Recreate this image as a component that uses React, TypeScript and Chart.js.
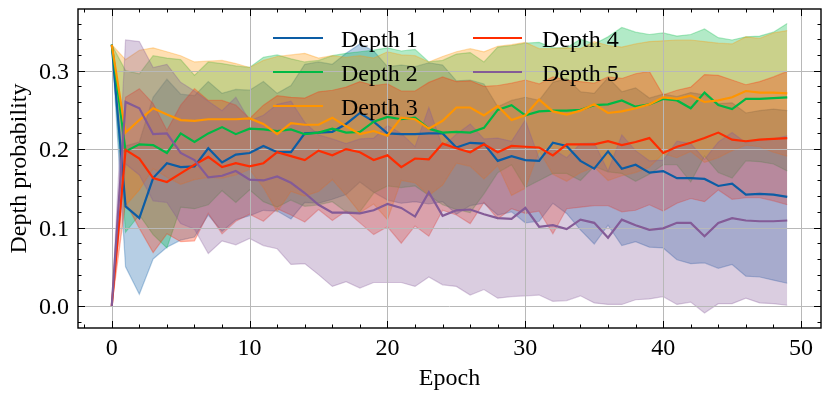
import React, { useEffect, useRef } from "react";
import { Chart, registerables } from "chart.js";

Chart.register(...registerables);

// ---------------- data ----------------
const epochs = [
  0, 1, 2, 3, 4, 5, 6, 7, 8, 9, 10, 11, 12, 13, 14, 15, 16, 17, 18, 19, 20, 21, 22, 23, 24,
  25, 26, 27, 28, 29, 30, 31, 32, 33, 34, 35, 36, 37, 38, 39, 40, 41, 42, 43, 44, 45, 46, 47, 48, 49,
];

const seriesNames = ["Depth 1", "Depth 2", "Depth 3", "Depth 4", "Depth 5"];

const depth1Mean = [
  0.333, 0.127, 0.112, 0.163, 0.182, 0.177, 0.178, 0.201, 0.183, 0.193,
  0.195, 0.204, 0.196, 0.196, 0.22, 0.221, 0.222, 0.232, 0.246, 0.235,
  0.22, 0.219, 0.219, 0.22, 0.22, 0.202, 0.208, 0.207, 0.185, 0.191,
  0.186, 0.185, 0.208, 0.204, 0.185, 0.175, 0.197, 0.175, 0.18, 0.17,
  0.172, 0.163, 0.163, 0.162, 0.153, 0.156, 0.142, 0.143, 0.142, 0.139,
];
const depth1Std = [
  0, 0.077, 0.097, 0.103, 0.107, 0.093, 0.09, 0.085, 0.088, 0.083,
  0.08, 0.082, 0.075, 0.085, 0.088, 0.09, 0.086, 0.09, 0.088, 0.09,
  0.085, 0.088, 0.086, 0.09, 0.087, 0.085, 0.08, 0.076, 0.069, 0.071,
  0.08, 0.077, 0.077, 0.086, 0.088, 0.096, 0.094, 0.098, 0.098, 0.095,
  0.098, 0.104, 0.109, 0.107, 0.105, 0.103, 0.104, 0.106, 0.109, 0.11,
];

const depth2Mean = [
  0.333, 0.197, 0.206, 0.205, 0.195, 0.22, 0.209, 0.22, 0.228, 0.219,
  0.226, 0.225, 0.223, 0.225, 0.219, 0.221, 0.226, 0.221, 0.222, 0.235,
  0.241, 0.238, 0.24, 0.226, 0.221, 0.222, 0.221, 0.227, 0.25, 0.256,
  0.243, 0.248, 0.249, 0.249, 0.25, 0.256, 0.257, 0.262, 0.254, 0.257,
  0.264, 0.262, 0.252, 0.272, 0.256, 0.251, 0.264, 0.264, 0.265, 0.266,
];
const depth2Std = [
  0, 0.103, 0.09, 0.114, 0.121, 0.094, 0.085, 0.091, 0.081, 0.087,
  0.078, 0.092, 0.097, 0.09, 0.092, 0.092, 0.093, 0.101, 0.102, 0.091,
  0.088, 0.087, 0.087, 0.085, 0.092, 0.099, 0.102, 0.084, 0.08, 0.076,
  0.092, 0.088, 0.08, 0.08, 0.09, 0.078, 0.086, 0.093, 0.095, 0.089,
  0.084, 0.082, 0.094, 0.081, 0.086, 0.088, 0.079, 0.08, 0.084, 0.094,
];

const depth3Mean = [
  0.333, 0.221, 0.237, 0.252, 0.244, 0.237, 0.236, 0.238, 0.238, 0.238,
  0.239, 0.232, 0.219, 0.233, 0.231, 0.231, 0.24, 0.229, 0.219, 0.223,
  0.217, 0.24, 0.238, 0.226, 0.236, 0.253, 0.253, 0.243, 0.255, 0.237,
  0.243, 0.263, 0.248, 0.244, 0.249, 0.257, 0.246, 0.248, 0.252, 0.257,
  0.266, 0.264, 0.268, 0.26, 0.262, 0.266, 0.274, 0.272, 0.272, 0.271,
];
const depth3Std = [
  0, 0.093, 0.089, 0.077, 0.08, 0.082, 0.075, 0.074, 0.075, 0.071,
  0.065, 0.081, 0.099, 0.087, 0.091, 0.085, 0.079, 0.088, 0.1, 0.093,
  0.107, 0.08, 0.081, 0.085, 0.082, 0.071, 0.075, 0.081, 0.076, 0.096,
  0.093, 0.065, 0.08, 0.085, 0.079, 0.08, 0.086, 0.082, 0.082, 0.08,
  0.072, 0.075, 0.071, 0.077, 0.073, 0.068, 0.069, 0.069, 0.076, 0.08,
];

const depth4Mean = [
  0.0, 0.199, 0.188, 0.163, 0.158, 0.169, 0.18, 0.19, 0.177, 0.182,
  0.178, 0.182, 0.196, 0.191, 0.186, 0.198, 0.192, 0.2, 0.196, 0.186,
  0.192, 0.177, 0.188, 0.187, 0.207, 0.201, 0.196, 0.206, 0.196, 0.204,
  0.203, 0.202, 0.192, 0.206, 0.206, 0.206, 0.21, 0.205, 0.209, 0.214,
  0.195, 0.203, 0.208, 0.214, 0.221, 0.212, 0.21, 0.212, 0.213, 0.214,
];
const depth4Std = [
  0, 0.067, 0.089, 0.095, 0.066, 0.087, 0.097, 0.072, 0.085, 0.074,
  0.061, 0.074, 0.072, 0.075, 0.079, 0.075, 0.083, 0.079, 0.09, 0.095,
  0.091, 0.097, 0.086, 0.098, 0.085, 0.085, 0.091, 0.074, 0.085, 0.08,
  0.085, 0.081, 0.1, 0.082, 0.08, 0.078, 0.082, 0.085, 0.087, 0.085,
  0.074, 0.072, 0.071, 0.081, 0.073, 0.076, 0.072, 0.074, 0.079, 0.085,
];

const depth5Mean = [
  0.0, 0.26, 0.252, 0.219, 0.22, 0.195, 0.186, 0.164, 0.166, 0.172,
  0.161, 0.16, 0.165, 0.157, 0.144, 0.129, 0.119, 0.119, 0.118, 0.122,
  0.13, 0.125, 0.114, 0.145, 0.115, 0.122, 0.123, 0.117, 0.112, 0.111,
  0.125, 0.101, 0.103, 0.098, 0.11, 0.106, 0.087, 0.11, 0.103, 0.097,
  0.099, 0.106, 0.106, 0.089, 0.106, 0.112, 0.109, 0.108, 0.108, 0.109,
];
const depth5Std = [
  0, 0.079, 0.085, 0.085, 0.088, 0.09, 0.088, 0.097, 0.083, 0.094,
  0.075, 0.083, 0.092, 0.104, 0.09, 0.089, 0.094, 0.088, 0.095, 0.092,
  0.1, 0.095, 0.089, 0.108, 0.088, 0.097, 0.109, 0.096, 0.102, 0.099,
  0.112, 0.087, 0.097, 0.091, 0.097, 0.102, 0.085, 0.108, 0.095, 0.088,
  0.087, 0.104, 0.101, 0.098, 0.103, 0.109, 0.099, 0.104, 0.105, 0.108,
];

const xTickLabels = [0, 10, 20, 30, 40, 50];
const yTickLabels = [0.0, 0.1, 0.2, 0.3];

// ---------------- styles ----------------
const COLORS = ["#0C5DA5", "#00B945", "#FF9500", "#FF2C00", "#845B97"];
const FILLS = [
  "rgba(12,93,165,0.3)",
  "rgba(0,185,69,0.3)",
  "rgba(255,149,0,0.3)",
  "rgba(255,44,0,0.3)",
  "rgba(132,91,151,0.3)",
];
const FONT_FAMILY = '"Liberation Serif", "Times New Roman", serif';
const FONT = `24px ${FONT_FAMILY}`;

const means = [depth1Mean, depth2Mean, depth3Mean, depth4Mean, depth5Mean];
const stds = [depth1Std, depth2Std, depth3Std, depth4Std, depth5Std];

const LINE_COUNT = 5;

const decorPlugin = {
  id: "decor",
  beforeDatasetDraw(chart: any, args: any) {
    // grid sits above the bands, below the lines
    if (args.index !== LINE_COUNT - 1) return;
    const { ctx, chartArea: a, scales } = chart;
    const x = scales.x;
    const y = scales.y;
    ctx.save();
    ctx.strokeStyle = "#b8b8b8";
    ctx.lineWidth = 1;
    ctx.beginPath();
    for (const t of xTickLabels) {
      const px = Math.round(x.getPixelForValue(t)) + 0.5;
      if (px < a.left || px > a.right) continue;
      ctx.moveTo(px, a.top);
      ctx.lineTo(px, a.bottom);
    }
    for (const t of yTickLabels) {
      const py = Math.round(y.getPixelForValue(t)) + 0.5;
      ctx.moveTo(a.left, py);
      ctx.lineTo(a.right, py);
    }
    ctx.stroke();
    ctx.restore();
  },
  afterDraw(chart: any) {
    const { ctx, chartArea: a, scales } = chart;
    const x = scales.x;
    const y = scales.y;
    ctx.save();
    // frame
    ctx.strokeStyle = "#000";
    ctx.lineWidth = 1.4;
    ctx.strokeRect(a.left, a.top, a.right - a.left, a.bottom - a.top);

    // ticks (inward, all four sides)
    ctx.lineWidth = 1;
    ctx.beginPath();
    const MAJ = 7;
    const MIN = 3.5;
    for (let v = -2; v <= 52; v += 2) {
      const px = Math.round(x.getPixelForValue(v)) + 0.5;
      if (px <= a.left + 1 || px >= a.right - 1) continue;
      const len = v % 10 === 0 ? MAJ : MIN;
      ctx.moveTo(px, a.bottom);
      ctx.lineTo(px, a.bottom - len);
      ctx.moveTo(px, a.top);
      ctx.lineTo(px, a.top + len);
    }
    for (let k = -2; k <= 19; k++) {
      const v = k * 0.02;
      const py = Math.round(y.getPixelForValue(v)) + 0.5;
      if (py <= a.top + 1 || py >= a.bottom - 1) continue;
      const len = k % 5 === 0 ? MAJ : MIN;
      ctx.moveTo(a.left, py);
      ctx.lineTo(a.left + len, py);
      ctx.moveTo(a.right, py);
      ctx.lineTo(a.right - len, py);
    }
    ctx.stroke();

    // tick labels
    ctx.fillStyle = "#000";
    ctx.font = FONT;
    ctx.textBaseline = "alphabetic";
    ctx.textAlign = "center";
    for (const t of xTickLabels) {
      ctx.fillText(String(t), x.getPixelForValue(t), a.bottom + 27);
    }
    ctx.textAlign = "right";
    for (const t of yTickLabels) {
      ctx.fillText(t.toFixed(1), a.left - 9, y.getPixelForValue(t) + 8);
    }

    // axis titles
    ctx.textAlign = "center";
    ctx.fillText("Epoch", (a.left + a.right) / 2, 385);
    ctx.save();
    ctx.translate(26, (a.top + a.bottom) / 2);
    ctx.rotate(-Math.PI / 2);
    ctx.fillText("Depth probability", 0, 0);
    ctx.restore();

    // legend (two columns, no frame)
    const cols = [
      { x0: 273, x1: 323, tx: 341 },
      { x0: 473, x1: 522, tx: 542 },
    ];
    const rows = [38, 72, 106];
    ctx.textAlign = "left";
    seriesNames.forEach((name, i) => {
      const c = cols[i < 3 ? 0 : 1];
      const ry = rows[i < 3 ? i : i - 3];
      ctx.strokeStyle = COLORS[i];
      ctx.lineWidth = 2;
      ctx.beginPath();
      ctx.moveTo(c.x0, ry);
      ctx.lineTo(c.x1, ry);
      ctx.stroke();
      ctx.fillStyle = "#000";
      ctx.fillText(name, c.tx, ry + 9);
    });
    ctx.restore();
  },
};

function buildDatasets() {
  const lines: any[] = [];
  const bands: any[] = [];
  // lines: lowest index is drawn last (on top) -> purple first
  for (let s = LINE_COUNT - 1; s >= 0; s--) {
    lines.push({
      label: seriesNames[s],
      data: epochs.map((e, i) => ({ x: e, y: means[s][i] })),
      borderColor: COLORS[s],
      backgroundColor: COLORS[s],
      borderWidth: 2.2,
      pointRadius: 0,
      fill: false,
      tension: 0,
    });
  }
  for (let s = LINE_COUNT - 1; s >= 0; s--) {
    bands.push({
      label: seriesNames[s] + " upper",
      data: epochs.map((e, i) => ({ x: e, y: means[s][i] + stds[s][i] })),
      borderColor: FILLS[s],
      backgroundColor: FILLS[s],
      borderWidth: 1.2,
      pointRadius: 0,
      fill: "+1",
      tension: 0,
    });
    bands.push({
      label: seriesNames[s] + " lower",
      data: epochs.map((e, i) => ({ x: e, y: means[s][i] - stds[s][i] })),
      borderColor: FILLS[s],
      backgroundColor: FILLS[s],
      borderWidth: 1.2,
      pointRadius: 0,
      fill: false,
      tension: 0,
    });
  }
  return [...lines, ...bands];
}

export default function App() {
  const ref = useRef<HTMLCanvasElement | null>(null);
  useEffect(() => {
    if (!ref.current) return;
    const chart = new Chart(ref.current, {
      type: "line",
      data: { datasets: buildDatasets() },
      options: {
        animation: false,
        responsive: false,
        devicePixelRatio: 1,
        layout: { padding: { left: 78, top: 9, right: 9, bottom: 70 } },
        plugins: {
          legend: { display: false },
          tooltip: { enabled: false },
          filler: { propagate: false },
        },
        scales: {
          x: { type: "linear", min: -2.45, max: 51.45, display: false },
          y: { type: "linear", min: -0.028, max: 0.3785, display: false },
        },
      },
      plugins: [decorPlugin],
    } as any);
    return () => chart.destroy();
  }, []);
  return (
    <div style={{ position: "fixed", left: 0, top: 0, width: 830, height: 398, background: "#fff" }}>
      <canvas ref={ref} width={830} height={398} style={{ display: "block" }} />
    </div>
  );
}
